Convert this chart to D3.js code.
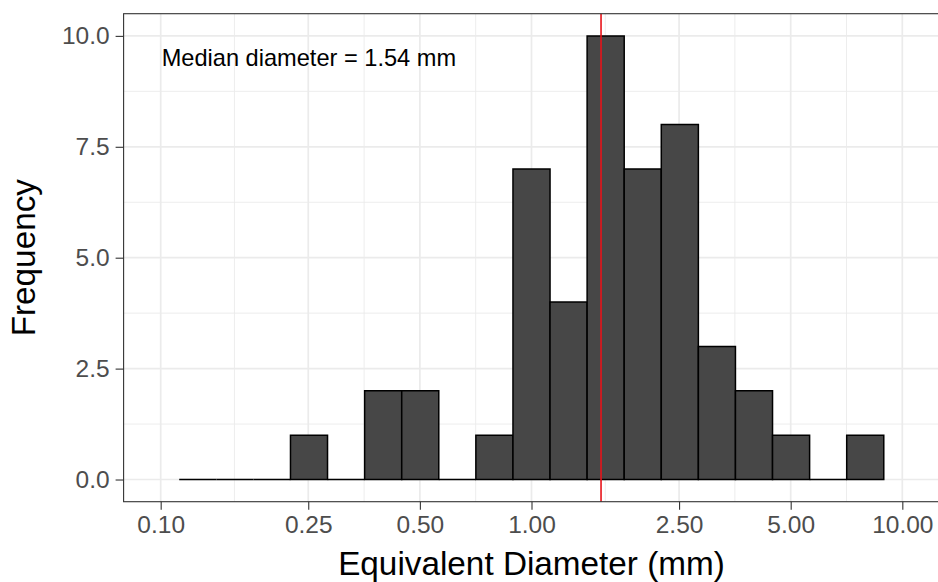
<!DOCTYPE html>
<html>
<head>
<meta charset="utf-8">
<script src="https://cdn.jsdelivr.net/npm/d3@7"></script>
<style>
  html, body { margin: 0; padding: 0; background: #fff; }
  svg { display: block; font-family: "Liberation Sans", Arial, Helvetica, sans-serif; }
</style>
</head>
<body>
<svg id="chart" width="938" height="582"></svg>
<script>
// ---- data ----
const binEdges = [0.1122, 0.1413, 0.1778, 0.2239, 0.2818, 0.3548, 0.4467, 0.5623, 0.7079, 0.8913,
                  1.1220, 1.4125, 1.7783, 2.2387, 2.8184, 3.5481, 4.4668, 5.6234, 7.0795, 8.9125];
const counts = [0, 0, 0, 1, 0, 2, 2, 0, 1, 7, 4, 10, 7, 8, 3, 2, 1, 0, 1];
const xTicks = [0.10, 0.25, 0.50, 1.00, 2.50, 5.00, 10.00];
const xTickLabels = ["0.10", "0.25", "0.50", "1.00", "2.50", "5.00", "10.00"];
const xMinor = [0.1581, 0.3536, 0.7071, 1.5811, 3.5355, 7.0711];
const yTicks = [0, 2.5, 5, 7.5, 10];
const yTickLabels = ["0.0", "2.5", "5.0", "7.5", "10.0"];
const yMinor = [1.25, 3.75, 6.25, 8.75];
const medianDiameter = 1.54;
const annotation = "Median diameter = 1.54 mm";
const xTitle = "Equivalent Diameter (mm)";
const yTitle = "Frequency";

// ---- layout ----
const svg = d3.select("#chart");
const panel = { left: 123.6, right: 939.4, top: 13.7, bottom: 501.7 };

const x = d3.scaleLog().domain([Math.pow(10, -1.1), Math.pow(10, 1.1)]).range([panel.left, panel.right]);
const y = d3.scaleLinear().domain([-0.5, 10.5]).range([panel.bottom, panel.top]);

const bins = counts.map((c, i) => ({ x0: binEdges[i], x1: binEdges[i + 1], n: c }));

// grid
const g = svg.append("g");
g.selectAll("line.xminor").data(xMinor).join("line")
  .attr("x1", d => x(d)).attr("x2", d => x(d))
  .attr("y1", panel.top).attr("y2", panel.bottom)
  .attr("stroke", "#EBEBEB").attr("stroke-width", 0.9);
g.selectAll("line.yminor").data(yMinor).join("line")
  .attr("y1", d => y(d)).attr("y2", d => y(d))
  .attr("x1", panel.left).attr("x2", panel.right)
  .attr("stroke", "#EBEBEB").attr("stroke-width", 0.9);
g.selectAll("line.xmajor").data(xTicks).join("line")
  .attr("x1", d => x(d)).attr("x2", d => x(d))
  .attr("y1", panel.top).attr("y2", panel.bottom)
  .attr("stroke", "#EBEBEB").attr("stroke-width", 1.7);
g.selectAll("line.ymajor").data(yTicks).join("line")
  .attr("y1", d => y(d)).attr("y2", d => y(d))
  .attr("x1", panel.left).attr("x2", panel.right)
  .attr("stroke", "#EBEBEB").attr("stroke-width", 1.7);

// bars (paths so zero-height bins still show their outline)
svg.append("g").selectAll("path").data(bins).join("path")
  .attr("d", d => {
    const xa = x(d.x0), xb = x(d.x1), y0 = y(0), y1 = y(d.n);
    return `M${xa},${y0}V${y1}H${xb}V${y0}Z`;
  })
  .attr("fill", "#474747")
  .attr("stroke", "#000")
  .attr("stroke-width", 1.5);

// median line
svg.append("line")
  .attr("x1", x(medianDiameter)).attr("x2", x(medianDiameter))
  .attr("y1", panel.top).attr("y2", panel.bottom)
  .attr("stroke", "#E8141B").attr("stroke-width", 1.6);

// annotation
svg.append("text")
  .attr("x", x(0.1) + 1).attr("y", 66)
  .attr("font-size", 23.6).attr("fill", "#000")
  .text(annotation);

// panel border
svg.append("rect")
  .attr("x", panel.left).attr("y", panel.top)
  .attr("width", panel.right - panel.left).attr("height", panel.bottom - panel.top)
  .attr("fill", "none").attr("stroke", "#333").attr("stroke-width", 1.1);

// axes
const xAxis = d3.axisBottom(x).tickValues(xTicks).tickFormat((d, i) => xTickLabels[i])
  .tickSize(8).tickPadding(6);
const gx = svg.append("g").attr("transform", `translate(0,${panel.bottom})`).call(xAxis);
gx.select(".domain").remove();
gx.selectAll(".tick line").attr("stroke", "#333").attr("stroke-width", 1.1);
gx.selectAll(".tick text").attr("fill", "#4D4D4D").attr("font-size", 24.5)
  .attr("font-family", "Liberation Sans, Arial, sans-serif");

const yAxis = d3.axisLeft(y).tickValues(yTicks).tickFormat((d, i) => yTickLabels[i])
  .tickSize(8).tickPadding(6);
const gy = svg.append("g").attr("transform", `translate(${panel.left},0)`).call(yAxis);
gy.select(".domain").remove();
gy.selectAll(".tick line").attr("stroke", "#333").attr("stroke-width", 1.1);
gy.selectAll(".tick text").attr("fill", "#4D4D4D").attr("font-size", 24.5)
  .attr("font-family", "Liberation Sans, Arial, sans-serif");

// titles
svg.append("text")
  .attr("x", (panel.left + panel.right) / 2).attr("y", 575)
  .attr("text-anchor", "middle").attr("font-size", 33.3).attr("fill", "#000")
  .text(xTitle);
svg.append("text")
  .attr("transform", `translate(35,${(panel.top + panel.bottom) / 2}) rotate(-90)`)
  .attr("text-anchor", "middle").attr("font-size", 33.3).attr("fill", "#000")
  .text(yTitle);
</script>
</body>
</html>
